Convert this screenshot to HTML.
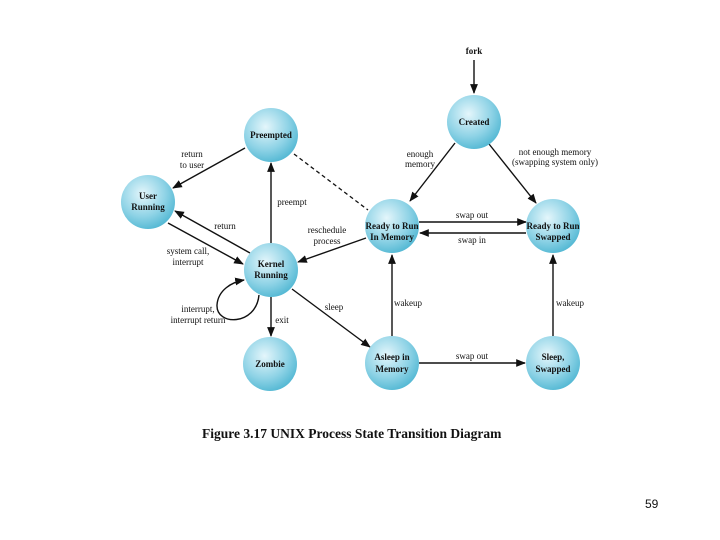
<!DOCTYPE html>
<html><head><meta charset="utf-8"><style>body{margin:0;background:#fff}svg{display:block}text{font-family:"Liberation Serif",serif;font-size:9px;fill:#111}.b{font-weight:bold}</style></head><body>
<svg width="720" height="540" viewBox="0 0 720 540" xmlns="http://www.w3.org/2000/svg">
<defs>
<radialGradient id="g" cx="0.4" cy="0.35" r="0.7"><stop offset="0" stop-color="#e4f6fb"/><stop offset="0.6" stop-color="#8fd3e6"/><stop offset="1" stop-color="#4fb6d2"/></radialGradient>
<marker id="a" viewBox="0 0 10 10" refX="9" refY="5" markerWidth="7" markerHeight="7" orient="auto"><path d="M0,1 L10,5 L0,9 z" fill="#111"/></marker>
</defs>
<g stroke="#111" stroke-width="1.4" fill="none" marker-end="url(#a)">
<line x1="474" y1="60" x2="474" y2="93"/>
<line x1="455" y1="143" x2="410" y2="201"/>
<line x1="489" y1="144" x2="536" y2="203"/>
<line x1="419" y1="222" x2="526" y2="222"/>
<line x1="526" y1="233" x2="420" y2="233"/>
<line x1="392" y1="336" x2="392" y2="255"/>
<line x1="553" y1="336" x2="553" y2="255"/>
<line x1="419" y1="363" x2="525" y2="363"/>
<line x1="245" y1="148" x2="173" y2="188"/>
<line x1="271" y1="243" x2="271" y2="163"/>
<line x1="250" y1="253" x2="175" y2="211"/>
<line x1="168" y1="223" x2="243" y2="264"/>
<line x1="366" y1="238" x2="298" y2="262"/>
<line x1="271" y1="297" x2="271" y2="336"/>
<line x1="292" y1="289" x2="370" y2="347"/>
<path d="M259,295 C256,326 216,326 217,305 C218,290 232,282 244,280"/>
</g>
<line x1="294" y1="154" x2="368" y2="210" stroke="#111" stroke-width="1.3" stroke-dasharray="4,3"/>
<g fill="url(#g)">
<circle cx="474" cy="122" r="27"/><circle cx="271" cy="135" r="27"/><circle cx="148" cy="202" r="27"/>
<circle cx="271" cy="270" r="27"/><circle cx="392" cy="226" r="27"/><circle cx="553" cy="226" r="27"/>
<circle cx="270" cy="364" r="27"/><circle cx="392" cy="363" r="27"/><circle cx="553" cy="363" r="27"/>
</g>
<g class="b" text-anchor="middle">
<text x="474" y="54">fork</text>
<text x="474" y="125">Created</text>
<text x="271" y="138">Preempted</text>
<text x="148" y="199">User</text><text x="148" y="210">Running</text>
<text x="271" y="267">Kernel</text><text x="271" y="278">Running</text>
<text x="392" y="229">Ready to Run</text><text x="392" y="240">In Memory</text>
<text x="553" y="229">Ready to Run</text><text x="553" y="240">Swapped</text>
<text x="270" y="367">Zombie</text>
<text x="392" y="360">Asleep in</text><text x="392" y="372">Memory</text>
<text x="553" y="360">Sleep,</text><text x="553" y="372">Swapped</text>
</g>
<g text-anchor="middle">
<text x="420" y="157">enough</text><text x="420" y="167">memory</text>
<text x="555" y="155">not enough memory</text><text x="555" y="165">(swapping system only)</text>
<text x="472" y="218">swap out</text><text x="472" y="243">swap in</text>
<text x="472" y="359">swap out</text>
<text x="192" y="157">return</text><text x="192" y="168">to user</text>
<text x="292" y="205">preempt</text>
<text x="225" y="229">return</text>
<text x="188" y="254">system call,</text><text x="188" y="265">interrupt</text>
<text x="327" y="233">reschedule</text><text x="327" y="244">process</text>
<text x="198" y="312">interrupt,</text><text x="198" y="323">interrupt return</text>
<text x="282" y="323">exit</text>
<text x="334" y="310">sleep</text>
<text x="408" y="306">wakeup</text><text x="570" y="306">wakeup</text>
</g>
<text x="202" y="438" class="b" style="font-size:13.5px">Figure 3.17   UNIX Process State Transition Diagram</text>
<text x="645" y="508" style="font-family:'Liberation Sans',sans-serif;font-size:12px">59</text>
</svg>
</body></html>
